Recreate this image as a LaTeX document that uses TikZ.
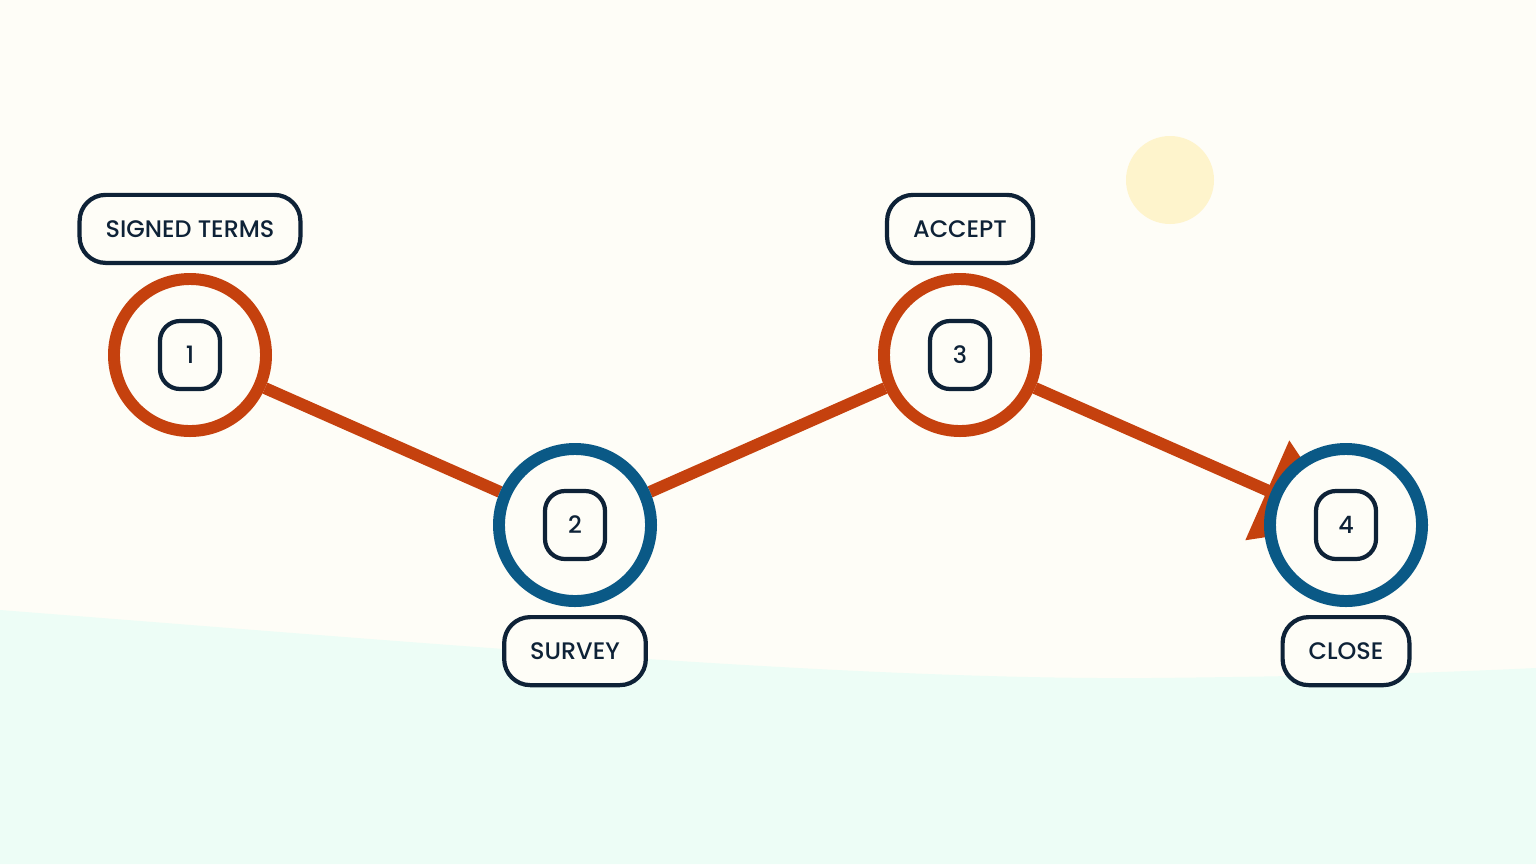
\documentclass[tikz,border=0pt]{standalone}
\usepackage{fontspec}
\setmainfont{Poppins}[UprightFont=* Medium]
\usetikzlibrary{positioning,arrows.meta}
\definecolor{cream}{HTML}{FEFDF7}
\definecolor{mint}{HTML}{EDFDF6}
\definecolor{sun}{HTML}{FEF4CC}
\definecolor{rust}{HTML}{C5410E}
\definecolor{sea}{HTML}{0A5986}
\definecolor{ink}{HTML}{0E2237}
\pgfdeclarelayer{backdrop}
\pgfdeclarelayer{links}
\pgfsetlayers{backdrop,links,main}

\begin{document}
\begin{tikzpicture}[x=0.025cm,y=-0.025cm,
  stop/.style={circle,draw=#1,line width=8.5pt,fill=cream,minimum size=3.8cm,inner sep=0pt},
  num/.style={draw=ink,line width=3pt,rounded corners=0.5cm,minimum width=1.5cm,minimum height=1.7cm,inner sep=0pt,text=ink,font=\fontsize{17}{19}\selectfont},
  tag/.style={draw=ink,line width=3pt,rounded corners=0.65cm,fill=cream,minimum height=1.7cm,inner xsep=0.65cm,text=ink,font=\fontsize{17}{19}\selectfont},
  link/.style={draw=rust,line width=8.5pt},
  node distance=0.2cm]
\useasboundingbox (0,0) rectangle (1536,864);
% stops
\node[stop=rust] (c1) at (190,355) {};
\node[stop=sea] (c2) at (575,525) {};
\node[stop=rust] (c3) at (960,355) {};
\node[stop=sea] (c4) at (1346,525) {};
\node[num] (n1) at (c1) {1};
\node[num] (n2) at (c2) {2};
\node[num] (n3) at (c3) {3};
\node[num] (n4) at (c4) {4};
% labels
\node[tag,above=of c1] (t1) {SIGNED TERMS};
\node[tag,below=of c2] (t2) {SURVEY};
\node[tag,above=of c3] (t3) {ACCEPT};
\node[tag,below=of c4] (t4) {CLOSE};
% route
\begin{pgfonlayer}{links}
\draw[link] (c1) -- (c2);
\draw[link] (c2) -- (c3);
\draw[link,-{Triangle[length=2.15cm,width=2.65cm]}] (c3) -- (c4.center);
\end{pgfonlayer}
% ground and sun
\begin{pgfonlayer}{backdrop}
\fill[cream] (0,0) rectangle (1536,864);
\fill[mint] (0,610) .. controls (450,645) and (850,680) .. (1150,678)
  .. controls (1350,676) and (1450,672) .. (1536,668) -- (1536,864) -- (0,864) -- cycle;
\fill[sun] (1170,180) circle[radius=44];
\end{pgfonlayer}
\end{tikzpicture}
\end{document}
